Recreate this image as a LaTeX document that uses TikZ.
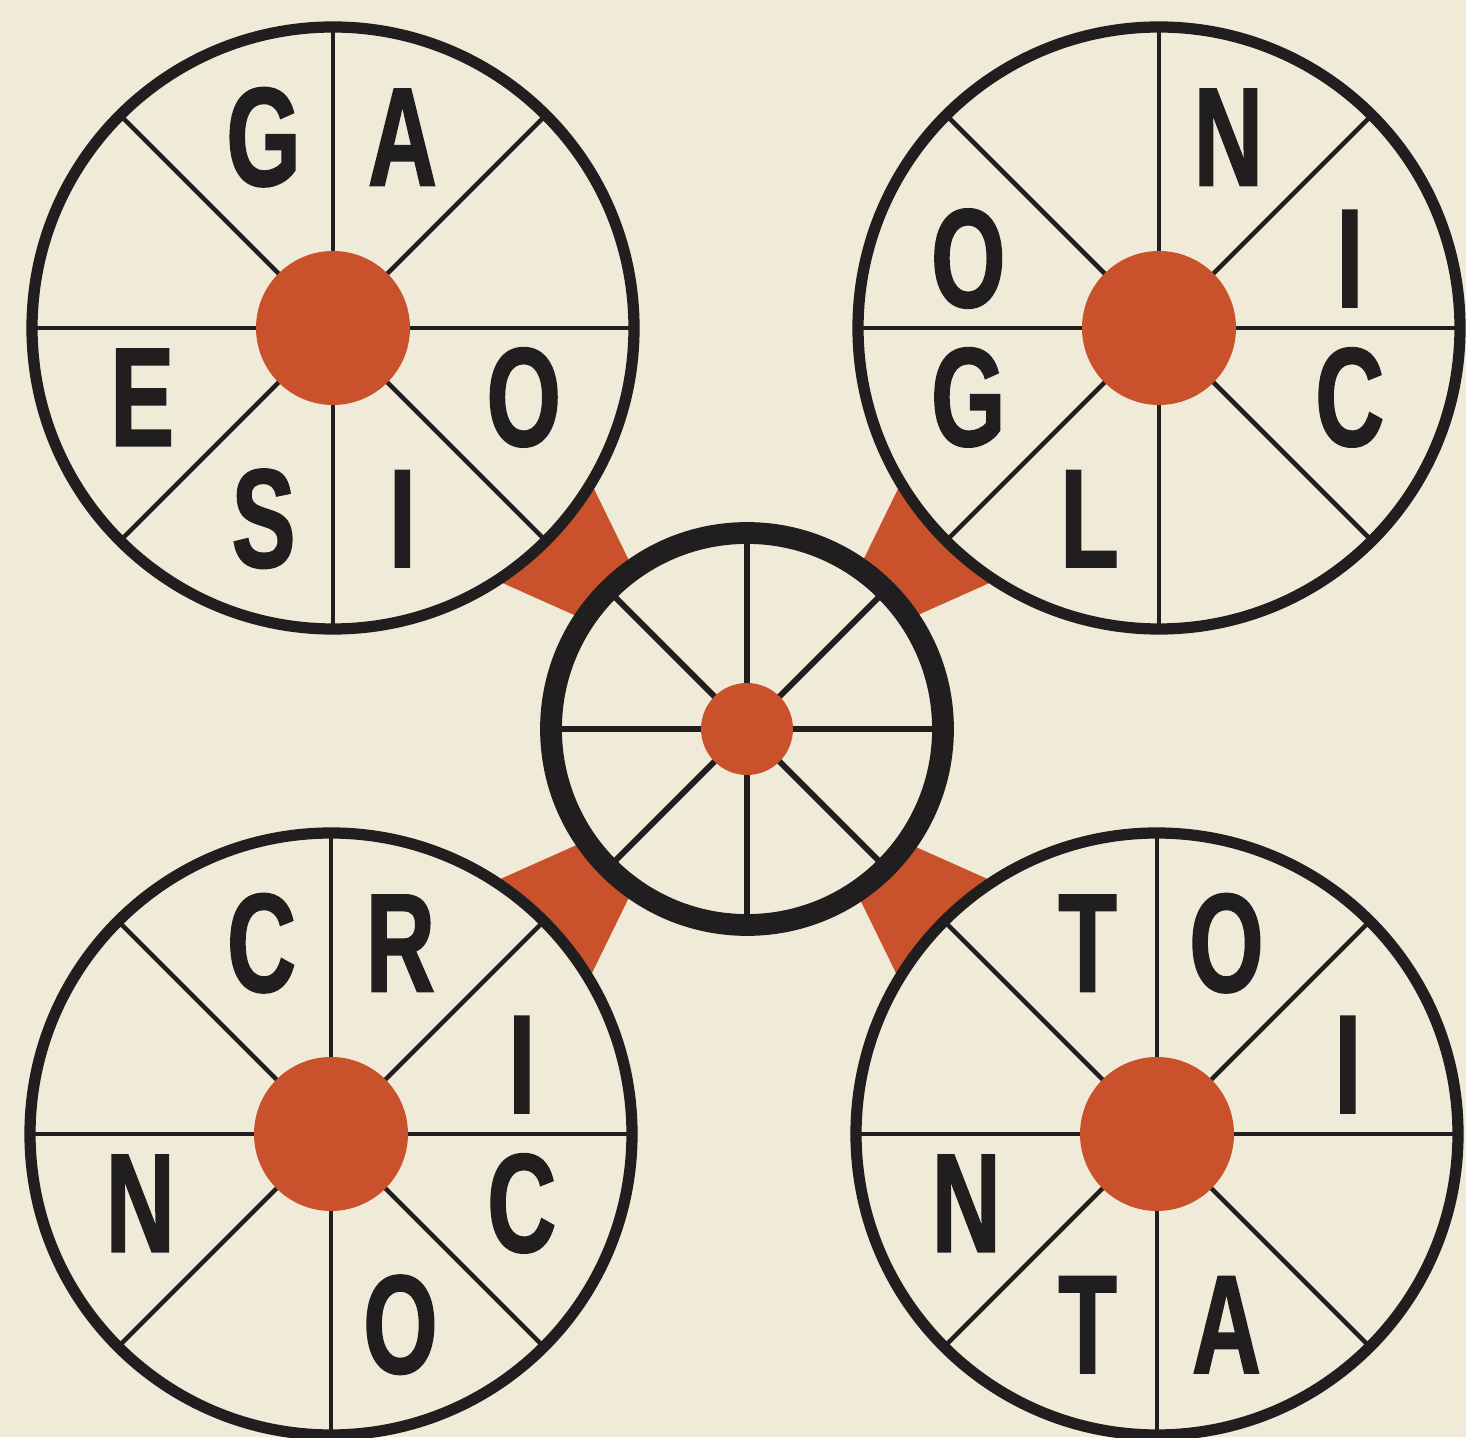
\documentclass[tikz,border=0pt]{standalone}
\usepackage{fontspec}
\newfontfamily\wheelfont[FakeStretch=0.68,FakeBold=1.2]{Liberation Sans}
\definecolor{paper}{RGB}{240,235,216}
\definecolor{hubred}{RGB}{201,82,45}
\definecolor{ink}{RGB}{32,30,30}

\begin{document}
\begin{tikzpicture}[
    letter/.style={font=\wheelfont\bfseries\fontsize{40}{40}\selectfont, text=ink, inner sep=0pt},
    rim/.style={draw=ink, line width=3.2pt},
    spoke/.style={draw=ink, line width=1.3pt}
  ]
  \fill[paper] (0,0) rectangle (14.66,14.37);
  \clip (0,0) rectangle (14.66,14.37);

  \coordinate (TL) at (3.33,11.09);
  \coordinate (TR) at (11.59,11.09);
  \coordinate (BL) at (3.31,3.03);
  \coordinate (BR) at (11.57,3.03);
  \coordinate (C) at (7.47,7.08);

  % red links between the wheels
  \foreach \w/\a in {TL/-44, TR/-136, BL/44, BR/136}
    \fill[hubred, shift={(\w)}, rotate=\a]
      (2.9,-0.69) -- (2.9,0.69) -- (3.92,0.32) -- (3.92,-0.32) -- cycle;

  % outer wheels
  \foreach \w in {TL,TR,BL,BR}{
    \fill[paper] (\w) circle (3.01);
    \foreach \s in {0,45,...,315}
      \draw[spoke] (\w) -- ++(\s:3.01);
    \draw[rim] (\w) circle (3.01);
    \fill[hubred] (\w) circle (0.77);
  }

  % centre wheel
  \fill[paper] (C) circle (1.96);
  \foreach \s in {0,45,...,315}
    \draw[spoke, line width=1.7pt] (C) -- ++(\s:1.96);
  \draw[rim, line width=6.2pt] (C) circle (1.96);
  \fill[hubred] (C) circle (0.46);

  % letters
  \foreach \w/\a/\t in {TL/110/G, TL/70/A, TL/200/E, TL/340/O, TL/250/S, TL/290/I,
                        TR/70/N, TR/160/O, TR/20/I, TR/200/G, TR/340/C, TR/250/L,
                        BL/110/C, BL/70/R, BL/20/I, BL/200/N, BL/340/C, BL/290/O,
                        BR/110/T, BR/70/O, BR/20/I, BR/200/N, BR/250/T, BR/290/A}
    \node[letter] (\w-\a) at ([shift={(\a:2.03)}]\w) {\t};
\end{tikzpicture}
\end{document}
